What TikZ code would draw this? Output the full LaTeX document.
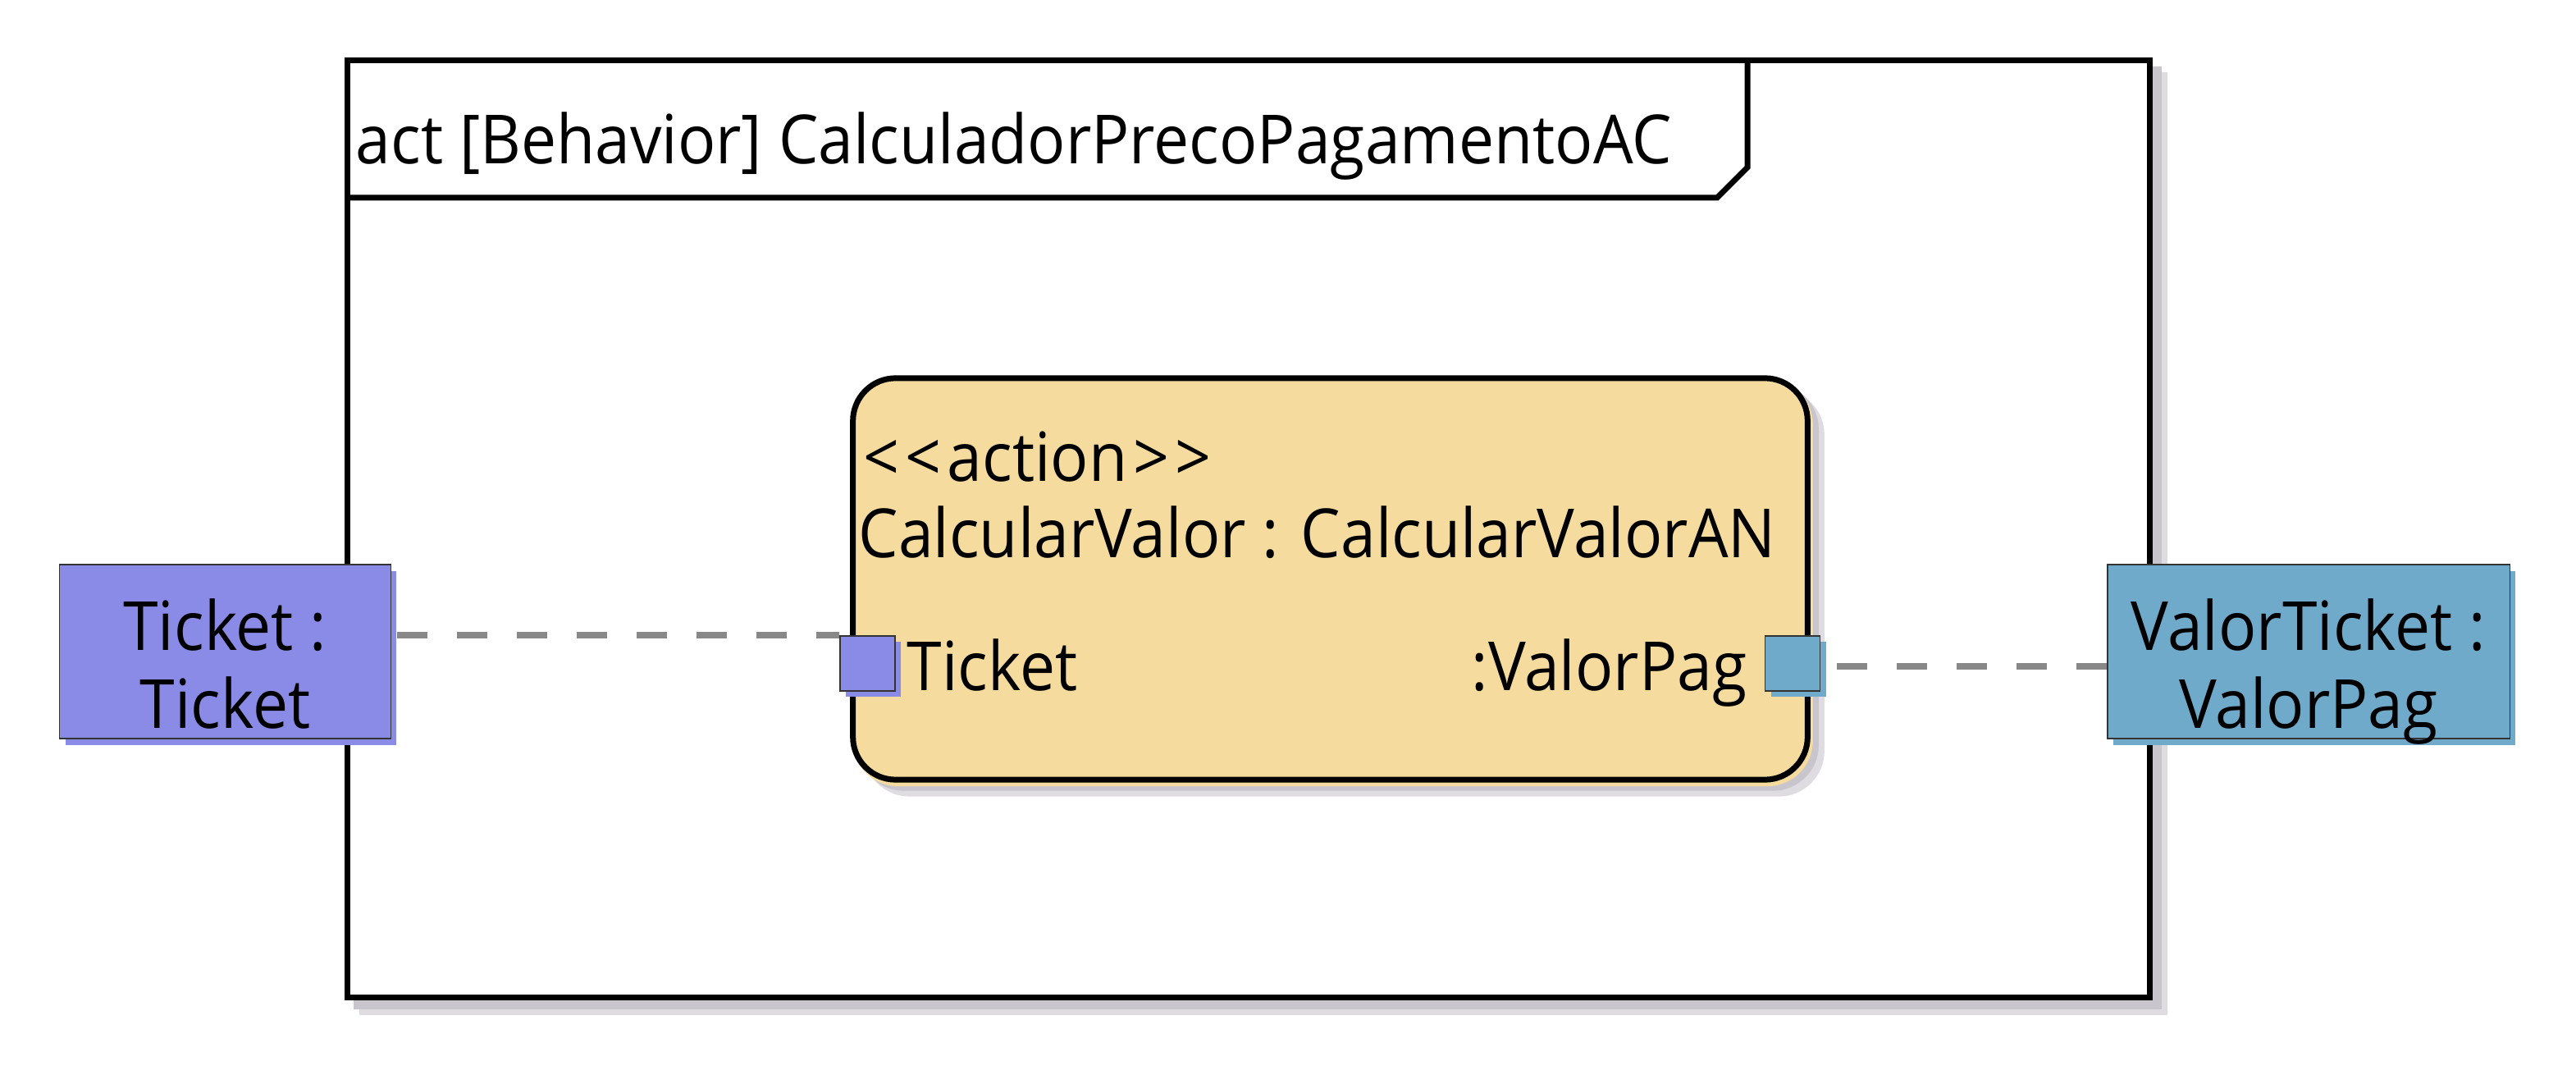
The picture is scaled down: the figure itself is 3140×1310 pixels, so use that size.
\documentclass[tikz,border=0pt]{standalone}
\usepackage{fontspec}
\setmainfont{Open Sans}[FakeStretch=0.93]
\usepackage{xcolor}
\usepackage{tikz}
\usetikzlibrary{shadows}

\definecolor{ticketcol}{RGB}{138,139,230}
\definecolor{valorcol}{RGB}{112,170,203}
\definecolor{actioncol}{RGB}{245,220,158}
\definecolor{shadowdark}{RGB}{200,198,204}
\definecolor{shadowlight}{RGB}{222,220,225}
\definecolor{flowgray}{RGB}{136,136,136}

\tikzset{
  framebox/.style={draw, line width=0.07cm, fill=white,
    minimum width=21.96cm, minimum height=11.415cm,
    copy shadow={shadow xshift=0.18cm, shadow yshift=-0.18cm, fill=shadowlight, draw=shadowlight},
    copy shadow={shadow xshift=0.11cm, shadow yshift=-0.11cm, fill=shadowdark, draw=shadowdark}},
  actionbox/.style={draw, line width=0.07cm, rounded corners=0.52cm, fill=actioncol,
    minimum width=11.63cm, minimum height=4.89cm,
    copy shadow={shadow xshift=0.17cm, shadow yshift=-0.17cm, fill=shadowlight, draw=shadowlight},
    copy shadow={shadow xshift=0.1cm, shadow yshift=-0.1cm, fill=shadowdark, draw=shadowdark},
    copy shadow={shadow xshift=0.03cm, shadow yshift=-0.045cm, fill=actioncol, draw=actioncol}},
  objbox/.style={fill=#1, draw=black!80, line width=0.012cm,
    minimum width=4.03cm, minimum height=2.12cm, align=center,
    text height=1.86cm, text depth=0cm,
    copy shadow={shadow xshift=0.07cm, shadow yshift=-0.08cm, fill=#1, draw=none}},
  pinbox/.style={fill=#1, draw=black!80, line width=0.012cm, minimum size=0.67cm,
    copy shadow={shadow xshift=0.07cm, shadow yshift=-0.07cm, fill=#1, draw=none}},
  flow/.style={draw=flowgray, line width=0.08cm, dash pattern=on 0.37cm off 0.36cm}
}

\begin{document}
\begin{tikzpicture}[x=0.01cm, y=-0.01cm,
    every node/.style={font=\fontsize{23.5}{27}\selectfont, inner sep=0pt}]
  \useasboundingbox (0,0) rectangle (3140,1310);

  % Draw frame
  \node[framebox] (frame) at (1522,644.25) {};
  \draw[line width=0.07cm] (424,241) -- (2093,241) -- (2130,204) -- (2130,73.5);
  \node[anchor=base west] (title) at (433,200) {act [Behavior] CalculadorPrecoPagamentoAC};

  % Draw action
  \node[actionbox] (calcvalor) at (1621.5,705.5) {};
  \node[anchor=base west] (stereo) at (1052,587) {<\kern2pt<\kern2pt action\kern2pt>\kern2pt>};
  \node[anchor=base west] (actname) at (1046,680) {CalcularValor : CalcularValorAN};

  % Draw pins
  \node[pinbox=ticketcol] (tpin) at (1057.5,808.5) {};
  \node[pinbox=valorcol] (vpin) at (2185,808.5) {};
  \node[anchor=base west] (tpinlbl) at (1105,842) {Ticket};
  \node[anchor=base east] (vpinlbl) at (2130,842) {:ValorPag};

  % Draw parameter nodes
  \node[objbox=ticketcol] (ticketobj) at (274.5,794) {Ticket :\\Ticket};
  \node[objbox=valorcol, minimum width=4.9cm] (valorobj) at (2814,794) {ValorTicket :\\ValorPag};

  % Draw object flows
  \draw[flow] ([xshift=0.07cm]ticketobj.east |- tpin.north) -- (tpin.north west);
  \draw[flow] ([yshift=-0.035cm]vpin.east -| valorobj.west) -- ([yshift=-0.035cm, xshift=0.07cm]vpin.east);
\end{tikzpicture}
\end{document}
